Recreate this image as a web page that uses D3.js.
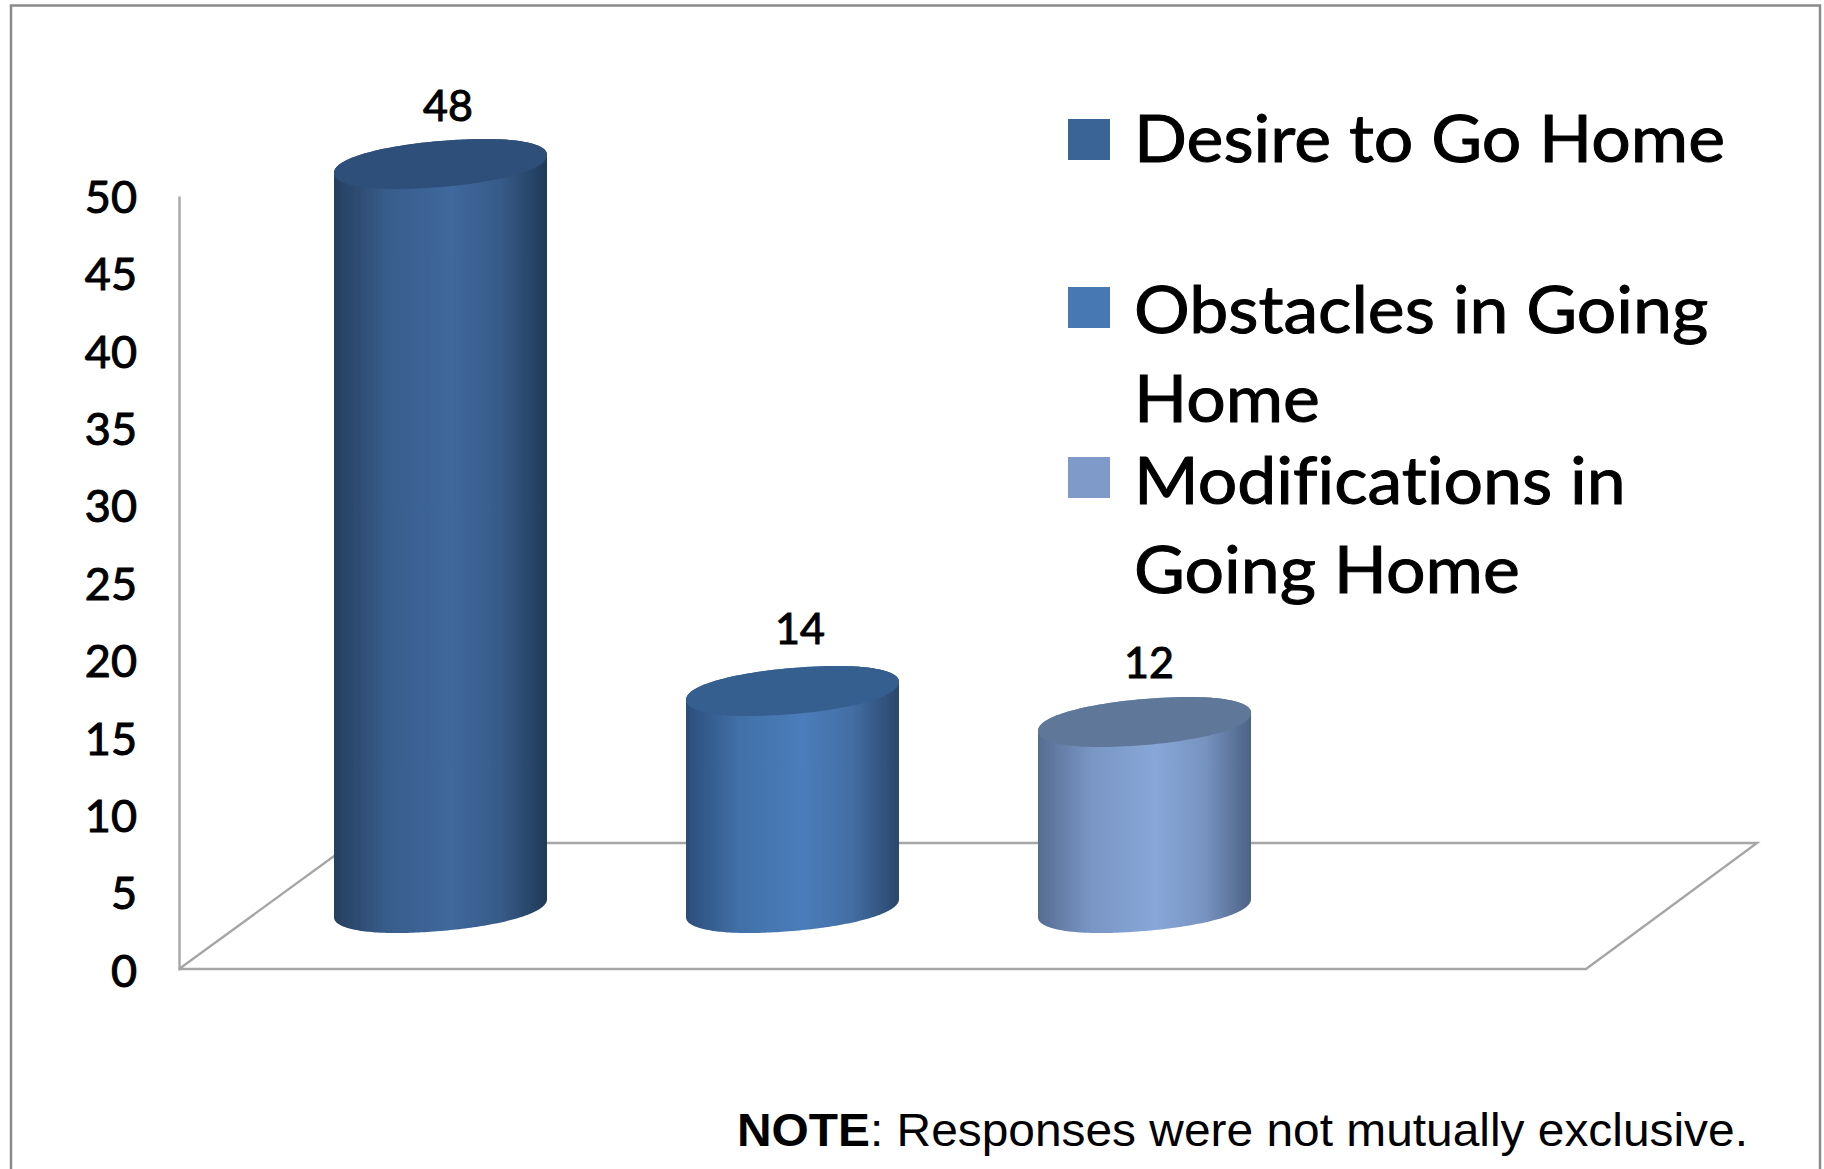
<!DOCTYPE html>
<html><head><meta charset="utf-8">
<style>html,body{margin:0;padding:0;background:#fff}svg{display:block}text{font-variant-ligatures:none}</style>
<script src="https://d3js.org/d3.v7.min.js"></script></head>
<body><svg id="c" width="1824" height="1169"></svg>
<script>
const categories = ["Desire to Go Home", "Obstacles in Going Home", "Modifications in Going Home"];
const values = [48, 14, 12];
const yTicks = [0, 5, 10, 15, 20, 25, 30, 35, 40, 45, 50];
const legendLines = [["Desire to Go Home"], ["Obstacles in Going", "Home"], ["Modifications in", "Going Home"]];
const edgeLeft = ["#263f60", "#2b4e7b", "#566c92"];
const mid = ["#3f689c", "#4b7dba", "#87a7d8"];
const edgeRight = ["#213a59", "#2a466b", "#4d6285"];
const topColor = ["#2f4f79", "#365e8f", "#5f7799"];
const legendColor = ["#3b6496", "#4878b3", "#7f9ac8"];

const FONT = "Lato, 'Open Sans', sans-serif", INK = "#000", AXIS = "#a6a6a6";
const svg = d3.select("#c"), defs = svg.append("defs");
defs.append("filter").attr("id", "soft").append("feGaussianBlur").attr("stdDeviation", 0.6);

// outer frame
svg.append("path").attr("d", "M11,1169V5.5H1820V1169").attr("fill", "none").attr("stroke", "#8a8a8a").attr("stroke-width", 2.5);

// scales
const axisY = d3.scaleLinear().domain([0, 50]).range([969, 195]);
const barY = d3.scaleLinear().domain([0, 50]).range([908, 133]);
const x = d3.scalePoint().domain(categories).range([440.5, 1144.5]);
const bw = 213, rx = bw / 2, shear = 9, ry = 23, round = 0.93;

// floor
const floor = [[179, 969], [1586, 969], [1757, 843], [352, 843], [179, 969]];
svg.append("path").attr("d", d3.line()(floor)).attr("fill", "none").attr("stroke", AXIS).attr("stroke-width", 2.4);

// axis
const ax = svg.append("g").attr("transform", "translate(179,1)").call(d3.axisLeft(axisY).tickValues(yTicks).tickSize(0).tickPadding(42));
ax.select(".domain").attr("stroke", AXIS).attr("stroke-width", 2.4);
ax.selectAll("text").attr("font-family", FONT).attr("font-size", 45).attr("font-weight", 400)
  .attr("fill", INK).attr("stroke", INK).attr("stroke-width", 1).attr("dy", "0.36em");

// cylinders
const pow = v => Math.sign(v) * Math.pow(Math.abs(v), round);
const ell = (cx, cy, t) => [cx + rx * pow(Math.cos(t)), cy - shear * pow(Math.cos(t)) + ry * pow(Math.sin(t))];
const arc = (cx, cy, a, b) => d3.range(0, 121).map(i => ell(cx, cy, a + (b - a) * i / 120));
categories.forEach((c, i) => {
  const g = defs.append("linearGradient").attr("id", "g" + i);
  [[0, edgeLeft[i]], [.25, d3.interpolateRgb(edgeLeft[i], mid[i])(.72)], [.55, mid[i]], [.78, d3.interpolateRgb(edgeRight[i], mid[i])(.72)], [1, edgeRight[i]]]
    .forEach(s => g.append("stop").attr("offset", s[0]).attr("stop-color", s[1]));
});
const line = d3.line();
const bars = svg.append("g").attr("filter", "url(#soft)");
categories.forEach((c, i) => {
  const cx = x(c), yt = barY(values[i]), yb = barY(0);
  bars.append("path").attr("d", line(arc(cx, yb, Math.PI, 0).concat(arc(cx, yt, 0, -Math.PI))) + "Z").attr("fill", `url(#g${i})`);
  bars.append("path").attr("d", line(arc(cx, yt, 0, 2 * Math.PI)) + "Z").attr("fill", topColor[i]);
});

// data labels
const labelX = [448, 800, 1149], labelY = [121, 644, 678];
svg.append("g").selectAll("text").data(values).join("text")
  .attr("x", (d, i) => labelX[i]).attr("y", (d, i) => labelY[i]).attr("text-anchor", "middle")
  .attr("font-family", FONT).attr("font-size", 43).attr("fill", INK).attr("stroke", INK).attr("stroke-width", 1).text(d => d);

// legend
const swatchY = [119, 287, 457], baseY = [[162], [333, 422], [504, 593]];
const lg = svg.append("g");
categories.forEach((c, i) => {
  lg.append("rect").attr("x", 1068).attr("y", swatchY[i]).attr("width", 42).attr("height", 41).attr("fill", legendColor[i]);
  legendLines[i].forEach((t, j) => lg.append("text").attr("transform", `translate(1134,${baseY[i][j]}) scale(1.057,1)`)
    .attr("font-family", FONT).attr("font-size", 66).attr("fill", INK).attr("stroke", INK).attr("stroke-width", 1).text(t));
});

// note
const note = svg.append("text").attr("x", 737).attr("y", 1146).attr("font-family", "'Liberation Sans', Arial, sans-serif").attr("font-size", 47).attr("fill", INK)
  .attr("textLength", 1011).attr("lengthAdjust", "spacingAndGlyphs");
note.append("tspan").attr("font-weight", 700).text("NOTE");
note.append("tspan").text(": Responses were not mutually exclusive.");
</script></body></html>
